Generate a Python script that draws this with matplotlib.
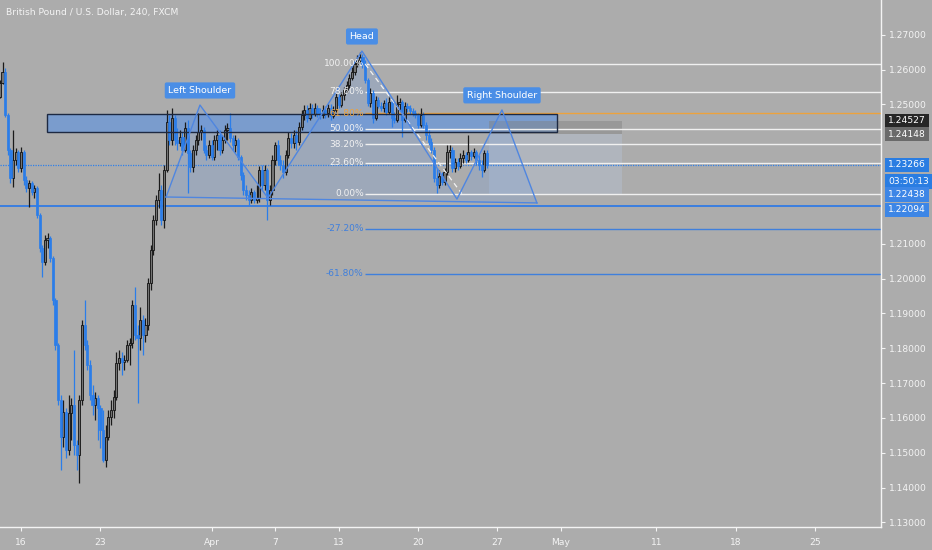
import matplotlib
matplotlib.use('Agg')
import matplotlib.pyplot as plt
import matplotlib.transforms as mtransforms
from matplotlib.patches import Rectangle, Polygon
import numpy as np

title = 'British Pound / U.S. Dollar, 240, FXCM'

# 4h candles, GBPUSD (open = previous close)
first_open = 1.2521
closes = [
    1.2561, 1.2593, 1.2469, 1.2369, 1.2289, 1.2340, 1.2363, 1.2317, 1.2363, 1.2283,
    1.2260, 1.2274, 1.2248, 1.2260, 1.2182, 1.2088, 1.2047, 1.2111, 1.2116, 1.2059,
    1.1939, 1.1809, 1.1651, 1.1545, 1.1617, 1.1508, 1.1614, 1.1637, 1.1522, 1.1493,
    1.1651, 1.1867, 1.1809, 1.1752, 1.1666, 1.1637, 1.1657, 1.1628, 1.1565, 1.1479,
    1.1545, 1.1602, 1.1622, 1.1660, 1.1757, 1.1772, 1.1760, 1.1766, 1.1809, 1.1815,
    1.1924, 1.1838, 1.1829, 1.1881, 1.1838, 1.1867, 1.1987, 1.2082, 1.2168, 1.2225,
    1.2254, 1.2168, 1.2312, 1.2449, 1.2398, 1.2461, 1.2398, 1.2389, 1.2406, 1.2369,
    1.2432, 1.2360, 1.2320, 1.2369, 1.2398, 1.2421, 1.2426, 1.2369, 1.2355, 1.2383,
    1.2349, 1.2398, 1.2412, 1.2369, 1.2398, 1.2426, 1.2432, 1.2403, 1.2383, 1.2398,
    1.2349, 1.2297, 1.2254, 1.2240, 1.2225, 1.2248, 1.2225, 1.2231, 1.2312, 1.2269,
    1.2312, 1.2225, 1.2254, 1.2340, 1.2383, 1.2340, 1.2326, 1.2306, 1.2355, 1.2403,
    1.2389, 1.2412, 1.2392, 1.2435, 1.2469, 1.2484, 1.2461, 1.2490, 1.2472, 1.2490,
    1.2475, 1.2469, 1.2484, 1.2475, 1.2490, 1.2467, 1.2484, 1.2521, 1.2498, 1.2527,
    1.2541, 1.2556, 1.2576, 1.2593, 1.2616, 1.2627, 1.2636, 1.2616, 1.2570, 1.2504,
    1.2533, 1.2461, 1.2513, 1.2495, 1.2490, 1.2504, 1.2478, 1.2507, 1.2461, 1.2455,
    1.2501, 1.2507, 1.2455, 1.2495, 1.2490, 1.2481, 1.2475, 1.2469, 1.2441, 1.2469,
    1.2441, 1.2412, 1.2392, 1.2369, 1.2289, 1.2269, 1.2294, 1.2277, 1.2306, 1.2363,
    1.2369, 1.2317, 1.2335, 1.2323, 1.2346, 1.2355, 1.2340, 1.2363, 1.2352, 1.2363,
    1.2340, 1.2326, 1.2312, 1.2360, 1.23266,
]
highs = [
    1.2570, 1.2622, 1.2604, 1.2475, 1.2375, 1.2426, 1.2375, 1.2369, 1.2378, 1.2369,
    1.2294, 1.2283, 1.2280, 1.2269, 1.2266, 1.2188, 1.2096, 1.2125, 1.2131, 1.2122,
    1.2065, 1.1944, 1.1815, 1.1666, 1.1651, 1.1628, 1.1666, 1.1657, 1.1795, 1.1536,
    1.1666, 1.1881, 1.1939, 1.1823, 1.1766, 1.1694, 1.1674, 1.1666, 1.1637, 1.1622,
    1.1580, 1.1622, 1.1651, 1.1680, 1.1789, 1.1795, 1.1789, 1.1780, 1.1823, 1.1829,
    1.1939, 1.1976, 1.1867, 1.1918, 1.1895, 1.1887, 1.2001, 1.2096, 1.2182, 1.2240,
    1.2303, 1.2269, 1.2326, 1.2484, 1.2469, 1.2490, 1.2469, 1.2432, 1.2426, 1.2421,
    1.2449, 1.2455, 1.2369, 1.2383, 1.2412, 1.2475, 1.2441, 1.2435, 1.2383, 1.2398,
    1.2398, 1.2412, 1.2426, 1.2426, 1.2412, 1.2441, 1.2446, 1.2475, 1.2412, 1.2412,
    1.2403, 1.2355, 1.2306, 1.2269, 1.2254, 1.2260, 1.2254, 1.2269, 1.2323, 1.2326,
    1.2326, 1.2317, 1.2269, 1.2355, 1.2392, 1.2398, 1.2355, 1.2340, 1.2369, 1.2421,
    1.2418, 1.2426, 1.2426, 1.2449, 1.2484, 1.2498, 1.2498, 1.2504, 1.2501, 1.2504,
    1.2498, 1.2490, 1.2498, 1.2495, 1.2501, 1.2501, 1.2495, 1.2533, 1.2530, 1.2535,
    1.2550, 1.2567, 1.2587, 1.2607, 1.2627, 1.2642, 1.2650, 1.2645, 1.2627, 1.2576,
    1.2547, 1.2541, 1.2524, 1.2521, 1.2507, 1.2513, 1.2518, 1.2521, 1.2513, 1.2478,
    1.2527, 1.2518, 1.2513, 1.2507, 1.2504, 1.2498, 1.2490, 1.2484, 1.2475, 1.2490,
    1.2478, 1.2449, 1.2426, 1.2403, 1.2378, 1.2317, 1.2312, 1.2306, 1.2317, 1.2383,
    1.2383, 1.2378, 1.2346, 1.2346, 1.2360, 1.2369, 1.2363, 1.2412, 1.2369, 1.2375,
    1.2369, 1.2355, 1.2340, 1.2369, 1.2369,
]
lows = [
    1.2518, 1.2558, 1.2464, 1.2355, 1.2274, 1.2263, 1.2326, 1.2306, 1.2306, 1.2269,
    1.2248, 1.2205, 1.2240, 1.2231, 1.2174, 1.2076, 1.2004, 1.2039, 1.2088, 1.2047,
    1.1924, 1.1795, 1.1637, 1.1450, 1.1516, 1.1485, 1.1493, 1.1536, 1.1493, 1.1450,
    1.1413, 1.1637, 1.1795, 1.1737, 1.1651, 1.1608, 1.1594, 1.1536, 1.1513, 1.1473,
    1.1459, 1.1536, 1.1580, 1.1600, 1.1651, 1.1737, 1.1723, 1.1737, 1.1760, 1.1752,
    1.1801, 1.1823, 1.1643, 1.1795, 1.1780, 1.1818, 1.1852, 1.1967, 1.2067, 1.2154,
    1.2202, 1.2154, 1.2145, 1.2306, 1.2383, 1.2383, 1.2383, 1.2369, 1.2380, 1.2355,
    1.2363, 1.2246, 1.2306, 1.2306, 1.2355, 1.2383, 1.2398, 1.2360, 1.2340, 1.2346,
    1.2340, 1.2340, 1.2369, 1.2355, 1.2360, 1.2389, 1.2398, 1.2392, 1.2369, 1.2363,
    1.2340, 1.2283, 1.2240, 1.2225, 1.2211, 1.2217, 1.2217, 1.2217, 1.2220, 1.2254,
    1.2254, 1.2168, 1.2211, 1.2240, 1.2326, 1.2326, 1.2312, 1.2289, 1.2297, 1.2346,
    1.2375, 1.2375, 1.2369, 1.2383, 1.2426, 1.2455, 1.2449, 1.2455, 1.2461, 1.2467,
    1.2464, 1.2458, 1.2461, 1.2461, 1.2464, 1.2455, 1.2461, 1.2478, 1.2490, 1.2492,
    1.2513, 1.2533, 1.2547, 1.2570, 1.2584, 1.2607, 1.2619, 1.2604, 1.2561, 1.2495,
    1.2492, 1.2446, 1.2455, 1.2490, 1.2481, 1.2478, 1.2469, 1.2472, 1.2435, 1.2446,
    1.2449, 1.2484, 1.2406, 1.2449, 1.2478, 1.2472, 1.2467, 1.2461, 1.2432, 1.2435,
    1.2432, 1.2398, 1.2383, 1.2360, 1.2277, 1.2246, 1.2260, 1.2269, 1.2269, 1.2297,
    1.2346, 1.2306, 1.2306, 1.2312, 1.2317, 1.2332, 1.2332, 1.2335, 1.2340, 1.2346,
    1.2326, 1.2312, 1.2291, 1.2306, 1.2317,
]

# time axis: 6 bars per trading day, Mar 16 starts at bar 8
day_ticks = [0, 5, 12, 16, 20, 25, 30, 34, 40, 45, 50]
day_labels = ['16', '23', 'Apr', '7', '13', '20', '27', 'May', '11', '18', '25']
price_ticks = [1.13, 1.14, 1.15, 1.16, 1.17, 1.18, 1.19, 1.20, 1.21, 1.25, 1.26, 1.27]

# drawings
hs_bars = [62.8, 75.6, 101.3, 136.8, 172.7, 189.7, 202.9]
hs_prices = [1.2234, 1.2498, 1.2231, 1.2653, 1.2228, 1.2484, 1.2217]
hs_names = ['Left Shoulder', 'Head', 'Right Shoulder']
fib_high, fib_low = 1.2616, 1.22438
fib_bars = [138.0, 174.5]
fib_levels = [1.0, 0.786, 0.618, 0.5, 0.382, 0.236, 0.0, -0.272, -0.618]
fib_names = ['100.00%', '78.60%', '61.80%', '50.00%', '38.20%', '23.60%', '0.00%', '-27.20%', '-61.80%']
zone_bars = [17.8, 210.5]
zone_prices = [1.24198, 1.24715]
pos_bars = [184.8, 235.0]
pos_stop, pos_entry, pos_target = 1.24527, 1.24148, 1.22438
support = 1.22094
last_price = 1.23266
countdown = '03:50:13'

bg = '#acacac'
blue = '#2b7de9'
hs_blue = '#4f86e0'
orange = '#eda23c'
txt = '#f4f4f4'

fig = plt.figure(figsize=(9.32, 5.5), dpi=100, facecolor=bg)
ax = fig.add_axes([0, 23 / 550, 881 / 932, 527 / 550], facecolor=bg)

# zone rectangle
ax.add_patch(Rectangle((zone_bars[0], zone_prices[0]), zone_bars[1] - zone_bars[0],
                       zone_prices[1] - zone_prices[0], facecolor='#6596dc', alpha=0.7,
                       edgecolor='none', zorder=1))
ax.add_patch(Rectangle((zone_bars[0], zone_prices[0]), zone_bars[1] - zone_bars[0],
                       zone_prices[1] - zone_prices[0], facecolor='none',
                       edgecolor='#1d2942', lw=1, zorder=4))

# short position tool
ax.add_patch(Rectangle((pos_bars[0], pos_entry), pos_bars[1] - pos_bars[0], pos_stop - pos_entry,
                       facecolor='#808080', alpha=0.45, edgecolor='none', zorder=1))
ax.add_patch(Rectangle((pos_bars[0], pos_target), pos_bars[1] - pos_bars[0], pos_entry - pos_target,
                       facecolor='#b6c0d2', alpha=0.45, edgecolor='none', zorder=1))

# fib retracement
x_right = 334
fib_range = fib_high - fib_low
for lev, name in zip(fib_levels, fib_names):
    p = fib_low + lev * fib_range
    if lev < 0:
        col = '#3f7fdc'
    elif abs(lev - 0.618) < 1e-6:
        col = orange
    else:
        col = '#f0f0f0'
    ax.hlines(p, fib_bars[0], x_right, color=col, lw=1, zorder=2)
    ax.text(fib_bars[0] - 0.5, p, name, ha='right', va='center', fontsize=6.5,
            color=col if lev < 0 or col == orange else '#f2f2f2', zorder=6)
ax.plot(fib_bars, [fib_high, fib_low], color='#f2f2f2', lw=0.9, ls=(0, (4, 3)), zorder=5)

# head and shoulders
ax.add_patch(Polygon(list(zip(hs_bars, hs_prices)), closed=True, facecolor='#6a9ae8',
                     alpha=0.22, edgecolor='none', zorder=1))
ax.plot(hs_bars, hs_prices, color=hs_blue, lw=1, zorder=5)
ax.plot([hs_bars[0], hs_bars[-1]], [hs_prices[0], hs_prices[-1]], color=hs_blue, lw=1, zorder=5)

# support and last price lines
ax.axhline(support, color='#3a7ee0', lw=1.4, zorder=2)
ax.axhline(last_price, color='#2f80e8', lw=0.9, ls=(0, (1, 1)), zorder=2)

# candles
bars = np.arange(len(closes))
c = np.array(closes)
o = np.array([first_open] + closes[:-1])
h = np.array(highs)
l = np.array(lows)
up = c >= o
ax.vlines(bars[up], l[up], h[up], color='#1a1a1a', lw=0.9, zorder=3)
ax.vlines(bars[~up], l[~up], h[~up], color=blue, lw=0.9, zorder=3)
ax.bar(bars[up], (c - o)[up], bottom=o[up], width=0.8, color='#737373',
       edgecolor='#111111', lw=0.6, zorder=3)
ax.bar(bars[~up], (o - c)[~up], bottom=c[~up], width=0.8, color=blue,
       edgecolor=blue, lw=0.5, zorder=3)

# pattern labels
for i, name in zip([1, 3, 5], hs_names):
    ax.annotate(name, (hs_bars[i], hs_prices[i]), xytext=(0, 10.5), textcoords='offset points',
                ha='center', va='center', fontsize=6.8, color='white', zorder=7,
                bbox=dict(boxstyle='round,pad=0.38,rounding_size=0.2', fc='#4a8ee6', ec='none'))

ax.set_xlim(0.05, 332.9)
ax.set_ylim(1.12866, 1.27996)

ax.set_xticks([8 + 6 * d for d in day_ticks])
ax.set_xticklabels(day_labels)
ax.yaxis.tick_right()
ax.set_yticks(price_ticks)
ax.set_yticklabels(['%.5f' % p for p in price_ticks])
ax.tick_params(axis='both', colors=txt, labelsize=6.6, length=3, width=0.8)
ax.tick_params(axis='x', pad=5)
ax.tick_params(axis='y', pad=3)
for s in ['top', 'left']:
    ax.spines[s].set_visible(False)
for s in ['right', 'bottom']:
    ax.spines[s].set_color('#f4f4f4')
    ax.spines[s].set_linewidth(1)

# price scale badges (TradingView pushes overlapping ones apart)
trans = mtransforms.blended_transform_factory(ax.transAxes, ax.transData)
badges = [(pos_stop, 0.0, '%.5f' % pos_stop, '#262626'),
          (pos_entry, 0.0, '%.5f' % pos_entry, '#6a6a6a'),
          (last_price, 0.0, '%.5f' % last_price, '#2a7de2'),
          (last_price, -0.0048, countdown, '#2a7de2'),
          (fib_low, -0.0003, '%.5f' % fib_low, '#3d86e6'),
          (support, -0.00126, '%.5f' % support, '#3d86e6')]
for p, shift, label, fc in badges:
    ax.text(1.008, p + shift, label, transform=trans, ha='left', va='center', fontsize=6.6,
            color='white', clip_on=False, zorder=8,
            bbox=dict(boxstyle='square,pad=0.3', fc=fc, ec='none'))

fig.text(6 / 932, 1 - 13 / 550, title, ha='left', va='center', fontsize=6.6, color=txt)

fig.savefig('out.png', dpi=100, facecolor=bg)
